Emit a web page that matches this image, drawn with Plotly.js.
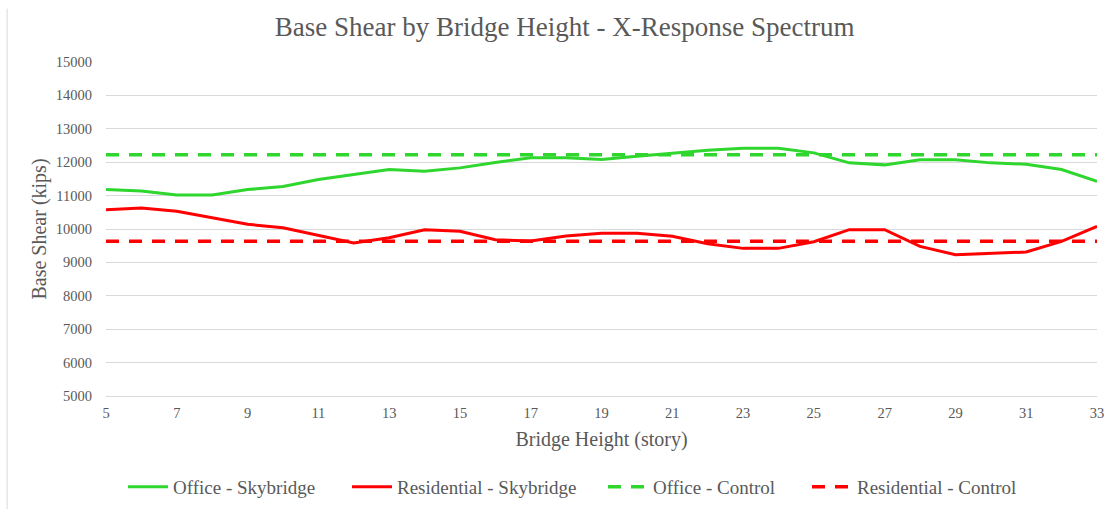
<!DOCTYPE html>
<html>
<head>
<meta charset="utf-8">
<script src="https://cdn.plot.ly/plotly-3.0.1.min.js"></script>
<style>html,body{margin:0;padding:0;background:#fff;}#chart{width:1118px;height:509px;}</style>
</head>
<body>
<div id="chart"></div>
<script>
const stories = [5,6,7,8,9,10,11,12,13,14,15,16,17,18,19,20,21,22,23,24,25,26,27,28,29,30,31,32,33];
const officeSkybridge = [11180,11140,11020,11020,11180,11270,11480,11640,11780,11730,11830,11990,12130,12130,12080,12180,12280,12360,12420,12420,12280,11980,11920,12070,12070,11980,11940,11780,11430];
const residentialSkybridge = [10580,10630,10530,10330,10140,10040,9810,9580,9740,9980,9930,9680,9640,9790,9870,9870,9780,9560,9420,9420,9620,9980,9980,9480,9230,9270,9310,9630,10080];
const officeControl = 12220;
const residentialControl = 9630;
const yTicks = [5000,6000,7000,8000,9000,10000,11000,12000,13000,14000,15000];
const xTicks = [5,7,9,11,13,15,17,19,21,23,25,27,29,31,33];

const green = '#2ED62E';
const red = '#FF0000';
const font = "'Liberation Serif', 'Times New Roman', serif";

const traces = [
  {x: stories, y: officeSkybridge, name: 'Office - Skybridge', mode: 'lines', line: {color: green, width: 3}, legend: 'legend'},
  {x: stories, y: residentialSkybridge, name: 'Residential - Skybridge', mode: 'lines', line: {color: red, width: 3}, legend: 'legend2'},
  {x: stories, y: stories.map(() => officeControl), name: 'Office - Control', mode: 'lines', line: {color: green, width: 3.5, dash: '13px,10px'}, legend: 'legend3'},
  {x: stories, y: stories.map(() => residentialControl), name: 'Residential - Control', mode: 'lines', line: {color: red, width: 3.5, dash: '13px,10px'}, legend: 'legend4'}
];

function leg(px) {
  return {orientation: 'h', x: px / 1118, xref: 'container', xanchor: 'left', y: 22/509, yref: 'container', yanchor: 'middle',
    font: {family: font, size: 19, color: '#595959'}, itemwidth: 40, bgcolor: 'rgba(0,0,0,0)'};
}

const layout = {
  width: 1118, height: 509,
  margin: {l: 106, r: 21, t: 62, b: 113},
  paper_bgcolor: '#fff', plot_bgcolor: '#fff',
  font: {family: font, color: '#595959', size: 14},
  title: {text: 'Base Shear by Bridge Height - X-Response Spectrum', font: {family: font, size: 27, color: '#595959'}, x: 0.505, xanchor: 'center', y: 0.948, yanchor: 'middle'},
  xaxis: {
    range: [5, 33], tickvals: xTicks, ticktext: xTicks.map(String),
    showgrid: false, zeroline: false, showline: true, linecolor: '#d9d9d9', linewidth: 1,
    ticks: '', tickfont: {family: font, size: 14.5, color: '#595959'}, ticklabelstandoff: 4,
    title: {text: 'Bridge Height (story)', font: {family: font, size: 20, color: '#595959'}, standoff: 11}
  },
  yaxis: {
    range: [5000, 15000], tickvals: yTicks, ticktext: yTicks.map(String),
    showgrid: true, gridcolor: '#d9d9d9', gridwidth: 1, zeroline: false,
    ticks: '', tickfont: {family: font, size: 14.5, color: '#595959'}, ticklabelstandoff: 13,
    title: {text: 'Base Shear (kips)', font: {family: font, size: 20, color: '#595959'}, standoff: 3}
  },
  legend: leg(123),
  legend2: leg(347),
  legend3: leg(603),
  legend4: leg(807),
  showlegend: true,
  shapes: [
    {type: 'line', xref: 'paper', yref: 'paper', x0: -99/992, x1: -99/992, y0: -1.1, y1: 1.16, line: {color: '#d9d9d9', width: 1}}
  ]
};

Plotly.newPlot('chart', traces, layout, {displayModeBar: false, staticPlot: true});
</script>
</body>
</html>
